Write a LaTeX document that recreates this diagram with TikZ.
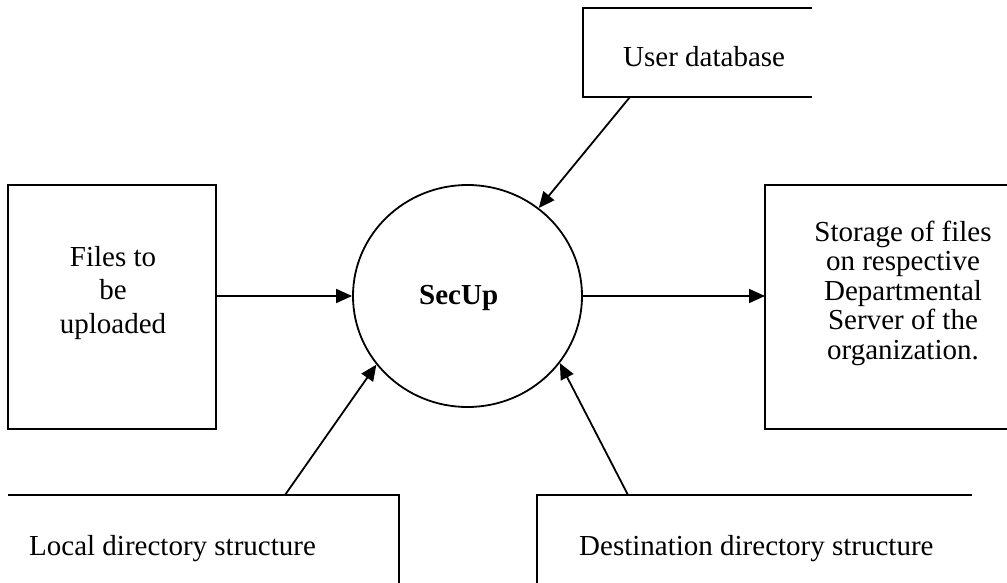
\documentclass[tikz,border=0pt]{standalone}
\usepackage{fontspec}
\setmainfont{Liberation Serif}
\usetikzlibrary{arrows.meta,shapes.geometric}
\begin{document}
\begin{tikzpicture}[x=1pt,y=-1pt,
  edge/.style={line width=1.8pt},
  flow/.style={line width=1.8pt,-{Triangle[length=16pt,width=14pt]}},
  lbl/.style={font=\fontsize{29}{33.5}\selectfont, inner sep=0pt},
  lbltight/.style={font=\fontsize{29}{29.5}\selectfont, inner sep=0pt},
]
\useasboundingbox (0,0) rectangle (1007,583);

% central process
\node[ellipse, draw, line width=1.8pt, minimum width=229pt, minimum height=222pt, inner sep=0pt] (sec) at (467.5,296) {};
\node[lbl, font=\fontsize{29}{33.5}\selectfont\bfseries, anchor=base west] (seclabel) at (419,304) {SecUp};

% user database (open store)
\draw[edge] (812,8) -- (583,8) -- (583,97) -- (812,97);
\coordinate (userOut) at (630,97);
\node[lbl, anchor=base west] (user) at (623,67) {User database};

% files to be uploaded
\draw[edge] (8,185) rectangle (216,429);
\coordinate (filesOut) at (216,296);
\node[lbl, align=center] (files) at (113,293) {Files to\\be\\uploaded};

% storage on departmental server
\draw[edge] (1010,185) -- (765,185) -- (765,429) -- (1010,429);
\coordinate (storeIn) at (765,296);
\node[lbltight, align=center] (store) at (903,293) {Storage of files\\on respective\\Departmental\\Server of the\\organization.};

% local directory structure
\draw[edge] (8,495) -- (399,495) -- (399,586);
\coordinate (localOut) at (285,495);
\node[lbl, anchor=base west] (local) at (29,555) {Local directory structure};

% destination directory structure
\draw[edge] (537,586) -- (537,495) -- (972,495);
\coordinate (destOut) at (628,495);
\node[lbl, anchor=base west] (dest) at (579,555) {Destination directory structure};

% data flows
\draw[flow] (filesOut) -- (sec.west);
\draw[flow] (sec.east) -- (storeIn);
\draw[flow] (userOut) -- (sec.51.8);
\draw[flow] (localOut) -- (sec.217);
\draw[flow] (destOut) -- (sec.-36);
\end{tikzpicture}
\end{document}
